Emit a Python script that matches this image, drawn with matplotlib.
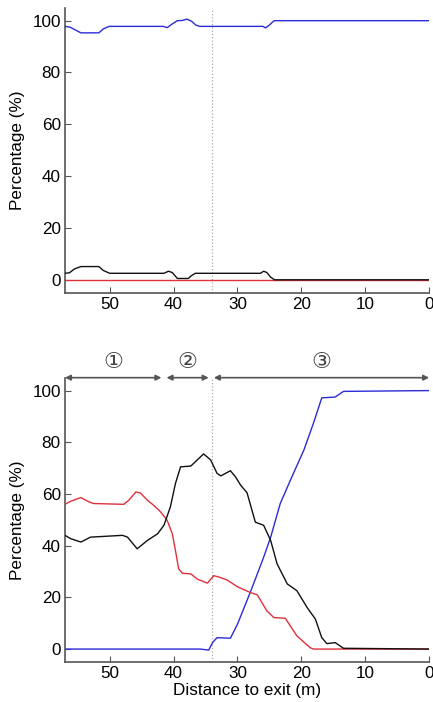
"""Two stacked panels: share of pedestrians per route vs. distance to exit."""

import matplotlib
matplotlib.use("Agg")
import matplotlib.pyplot as plt

plt.rcParams["font.family"] = ["Liberation Sans", "DejaVu Sans", "Noto Sans CJK SC"]

# ---- top panel -----------------------------------------------------------
top_blue_x = [57, 56.2, 55.2, 54.5, 51.7, 51.0, 50.1, 41.6, 41.0, 40.3, 39.4, 38.6, 37.9,
              37.2, 36.5, 35.9, 26.0, 25.6, 25.0, 24.4, 24.2, 0]
top_blue_y = [97.8, 97.5, 96.2, 95.3, 95.3, 96.8, 97.8, 97.8, 97.3, 98.6, 100, 100.1, 100.6,
              99.8, 98.3, 97.8, 97.8, 97.2, 98.3, 99.7, 100, 100]

top_black_x = [57, 56.3, 55.5, 54.5, 51.7, 51.0, 50.0, 41.5, 40.8, 40.2, 39.4, 37.7, 37.2,
               36.6, 26.4, 25.9, 25.4, 24.8, 24.2, 0]
top_black_y = [2.5, 2.7, 4.2, 5.1, 5.1, 3.6, 2.5, 2.5, 3.3, 2.8, 0.5, 0.5, 1.6, 2.5,
               2.5, 3.3, 2.8, 1.0, 0, 0]

top_red_x = [57, 24.2, 0]
top_red_y = [0, 0, 0]

# ---- bottom panel --------------------------------------------------------
bot_red_x = [57, 56.1, 54.5, 53.2, 52.5, 47.8, 47.0, 45.9, 45.2, 44.1, 43.1, 42.0, 41.0,
             40.2, 39.7, 39.2, 38.6, 37.3, 36.3, 34.7, 33.7, 32.7, 31.6, 30.0, 28.0,
             26.9, 25.4, 24.3, 22.5, 20.7, 18.6, 18.1, 0]
bot_red_y = [56, 57.2, 58.6, 56.9, 56.3, 56, 57.6, 60.8, 60.4, 57.6, 55.6, 53, 49.8,
             44.6, 38.1, 31, 29.3, 29.1, 27.1, 25.5, 28.4, 27.7, 26.7, 24.1, 21.9,
             21, 14.8, 12.2, 11.9, 5.1, 0.5, 0, 0]

bot_black_x = [57, 56.1, 54.5, 53.0, 48.0, 47.2, 45.7, 44.1, 42.5, 41.5, 40.5, 39.7, 38.9,
               37.3, 35.3, 34.2, 33.2, 32.6, 31.1, 30.3, 29.5, 28.5, 27.2, 25.9, 24.8,
               23.8, 22.2, 20.7, 19.1, 17.8, 16.8, 16.0, 14.7, 13.4, 0]
bot_black_y = [44, 42.7, 41.4, 43.3, 44, 43.3, 38.8, 42, 44.6, 47.9, 55, 64.1, 70.5,
               70.8, 75.5, 73.2, 68, 67, 69, 66.6, 63.4, 60.5, 49.1, 47.9, 42,
               33, 25.2, 22.6, 16.1, 11.6, 4.4, 2.1, 2.5, 0.3, 0]

bot_blue_x = [57, 35.8, 34.5, 33.9, 33.2, 31.1, 30.0, 28.0, 25.9, 24.8, 23.3, 21.7, 19.6,
              18.1, 16.8, 14.7, 13.4, 0]
bot_blue_y = [0, 0, -0.4, 2.5, 4.4, 4.2, 9.6, 21.9, 35.5, 43.3, 56.3, 65.4, 77,
              87.4, 97.2, 97.5, 99.7, 100]

phase_bounds = [(57, 41.9), (41.1, 34.5), (33.7, 0)]
phase_labels = ["\u2460", "\u2461", "\u2462"]
exit_marker = 34
x_ticks = [50, 40, 30, 20, 10, 0]
y_ticks = [0, 20, 40, 60, 80, 100]

BLUE = "#2b2bd9"
RED = "#e0303a"
BLACK = "#111111"
SPINE = "#555555"
FS = 12.3


def style_axes(ax):
    ax.set_xlim(57, 0)
    ax.set_ylim(-5, 105)
    ax.set_xticks(x_ticks)
    ax.set_yticks(y_ticks)
    ax.spines["top"].set_visible(False)
    ax.spines["right"].set_visible(False)
    for side in ("left", "bottom"):
        ax.spines[side].set_color(SPINE)
        ax.spines[side].set_linewidth(1.2)
    ax.tick_params(direction="in", length=4, color=SPINE, labelsize=FS, pad=3)
    ax.set_ylabel("Percentage (%)", fontsize=FS, labelpad=5)
    ax.axvline(exit_marker, color="#aaaaaa", linestyle=":", linewidth=0.9, zorder=1)


fig = plt.figure(figsize=(4.33, 7.02), dpi=100)
ax_top = fig.add_axes([0.150, 0.583, 0.841, 0.406])
ax_bot = fig.add_axes([0.150, 0.057, 0.841, 0.405])

ax_top.plot(top_red_x, top_red_y, color=RED, linewidth=1.0, zorder=2)
ax_top.plot(top_blue_x, top_blue_y, color=BLUE, linewidth=1.0, zorder=3)
ax_top.plot(top_black_x, top_black_y, color=BLACK, linewidth=1.0, zorder=4)
style_axes(ax_top)

ax_bot.plot(bot_blue_x, bot_blue_y, color=BLUE, linewidth=1.0, zorder=2)
ax_bot.plot(bot_red_x, bot_red_y, color=RED, linewidth=1.0, zorder=3)
ax_bot.plot(bot_black_x, bot_black_y, color=BLACK, linewidth=1.0, zorder=4)
style_axes(ax_bot)
ax_bot.set_xlabel("Distance to exit (m)", fontsize=FS, labelpad=1)

for (x0, x1), label in zip(phase_bounds, phase_labels):
    ax_bot.annotate("", xy=(x1, 105), xytext=(x0, 105), annotation_clip=False,
                    arrowprops=dict(arrowstyle="<|-|>", color="#555555", lw=1.2,
                                    mutation_scale=8, shrinkA=0, shrinkB=0))
    ax_bot.text((x0 + x1) / 2, 111, label, ha="center", va="center", fontsize=16,
                color="#444444", clip_on=False,
                family=["DejaVu Sans", "Noto Sans CJK SC"])

fig.savefig("out.png", dpi=100)
